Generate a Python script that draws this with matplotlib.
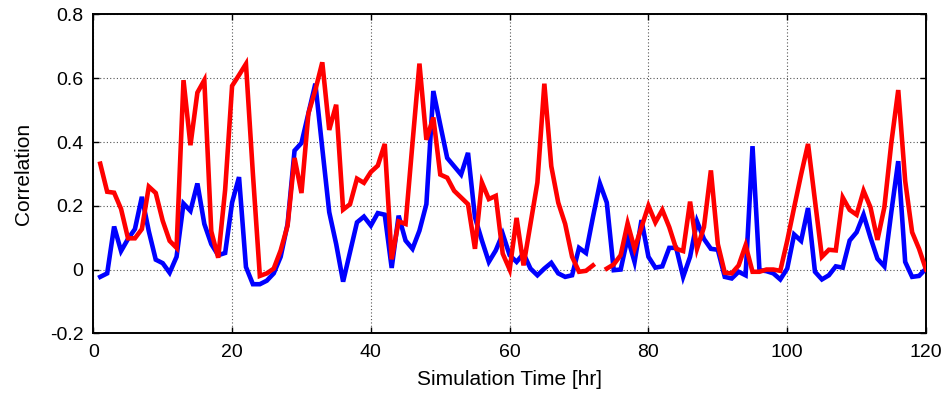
import numpy as np
import matplotlib
matplotlib.use("Agg")
import matplotlib.pyplot as plt

plt.rcParams['font.family'] = ['Liberation Sans', 'DejaVu Sans']

hours = np.arange(1, 121)

# Correlation per simulation hour, blue series
corr_blue = [
    -0.023, -0.012, 0.135, 0.058, 0.096, 0.127, 0.228, 0.12, 0.031, 0.02,
    -0.01, 0.04, 0.207, 0.184, 0.27, 0.143, 0.08, 0.045, 0.052, 0.21,
    0.29, 0.008, -0.046, -0.046, -0.035, -0.012, 0.04, 0.143, 0.373, 0.397,
    0.49, 0.583, 0.38, 0.18, 0.08, -0.038, 0.055, 0.148, 0.166, 0.138,
    0.177, 0.172, 0.005, 0.169, 0.091, 0.065, 0.122, 0.205, 0.56, 0.454,
    0.35, 0.324, 0.298, 0.366, 0.164, 0.091, 0.024, 0.06, 0.112, 0.045,
    0.024, 0.05, 0.003, -0.018, 0.003, 0.021, -0.012, -0.023, -0.018, 0.068,
    0.052, 0.164, 0.27, 0.21, -0.002, 0.0, 0.1, 0.024, 0.155, 0.04,
    0.006, 0.01, 0.068, 0.068, -0.023, 0.04, 0.151, 0.096, 0.065, 0.062,
    -0.023, -0.028, -0.007, -0.018, 0.387, -0.002, -0.005, -0.012, -0.031, 0.003,
    0.11, 0.09, 0.193, -0.007, -0.031, -0.018, 0.01, 0.006, 0.091, 0.117,
    0.172, 0.1, 0.034, 0.01, 0.18, 0.34, 0.024, -0.023, -0.02, 0.003,
]

# Correlation per simulation hour, red series (hour 73 missing)
corr_red = [
    0.332, 0.244, 0.241, 0.19, 0.098, 0.098, 0.127, 0.26, 0.24, 0.153,
    0.09, 0.068, 0.594, 0.39, 0.555, 0.594, 0.12, 0.037, 0.25, 0.576,
    0.61, 0.645, 0.3, -0.02, -0.012, 0.003, 0.06, 0.138, 0.35, 0.24,
    0.49, 0.563, 0.65, 0.438, 0.517, 0.188, 0.205, 0.285, 0.272, 0.306,
    0.326, 0.394, 0.032, 0.151, 0.143, 0.397, 0.646, 0.407, 0.477, 0.298,
    0.288, 0.247, 0.226, 0.205, 0.065, 0.273, 0.221, 0.231, 0.05, 0.0,
    0.162, 0.013, 0.143, 0.273, 0.583, 0.324, 0.21, 0.143, 0.04, -0.007,
    -0.004, 0.013, np.nan, 0.003, 0.016, 0.045, 0.145, 0.065, 0.133, 0.2,
    0.148, 0.187, 0.133, 0.065, 0.058, 0.213, 0.065, 0.133, 0.311, 0.08,
    -0.01, -0.012, 0.013, 0.076, -0.007, -0.007, 0.0, 0.0, -0.004, 0.09,
    0.195, 0.298, 0.394, 0.216, 0.04, 0.062, 0.06, 0.226, 0.187, 0.172,
    0.247, 0.195, 0.093, 0.195, 0.397, 0.563, 0.278, 0.117, 0.065, 0.0,
]

x_ticks = [0, 20, 40, 60, 80, 100, 120]
y_ticks = [-0.2, 0, 0.2, 0.4, 0.6, 0.8]
y_tick_labels = ['-0.2', '0', '0.2', '0.4', '0.6', '0.8']

fig = plt.figure(figsize=(9.46, 3.98), dpi=100)
ax = fig.add_axes([93.3 / 946, 1 - 333.3 / 398, (926 - 93.3) / 946, (333.3 - 14.5) / 398])

ax.plot(hours, corr_blue, color='#0000ff', lw=3.3, solid_joinstyle='miter', zorder=3)
ax.plot(hours, corr_red, color='#ff0000', lw=3.3, solid_joinstyle='miter', zorder=3)

ax.set_xlim(0, 120)
ax.set_ylim(-0.2, 0.8)
ax.set_xticks(x_ticks)
ax.set_yticks(y_ticks)
ax.set_yticklabels(y_tick_labels)
ax.tick_params(direction='in', top=True, right=True, length=4, width=1,
               labelsize=14, colors='black')
ax.tick_params(axis='x', pad=8)
ax.tick_params(axis='y', pad=7)
ax.grid(True, linestyle=(0, (1, 2)), color='#555555', linewidth=0.8)

for s in ax.spines.values():
    s.set_linewidth(1.4)
    s.set_color('black')

ax.set_xlabel('Simulation Time [hr]', fontsize=15, labelpad=6)
ax.set_ylabel('Correlation', fontsize=15, labelpad=12)

fig.savefig('out.png', dpi=100)
